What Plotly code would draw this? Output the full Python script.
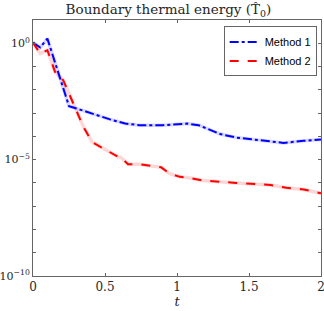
import plotly.graph_objects as go

# Method 1 (blue, dash-dot)
t1 = [0.0, 0.05, 0.1, 0.25, 0.326, 0.44, 0.535, 0.64, 0.74, 0.9, 0.95, 1.02, 1.07, 1.15, 1.3, 1.41, 1.58, 1.74, 1.88, 2.0]
log1 = [0.03, -0.18, 0.2, -2.7, -2.85, -3.09, -3.27, -3.45, -3.52, -3.52, -3.5, -3.46, -3.45, -3.52, -3.9, -4.05, -4.16, -4.28, -4.19, -4.13]

# Method 2 (red, dashed)
t2 = [0.0, 0.05, 0.1, 0.153, 0.21, 0.29, 0.35, 0.41, 0.49, 0.59, 0.61, 0.66, 0.74, 0.89, 0.95, 1.02, 1.07, 1.18, 1.41, 1.65, 1.76, 1.88, 2.0]
log2 = [0.03, -0.44, -0.3, -1.23, -1.59, -2.73, -3.59, -4.24, -4.52, -4.88, -4.9, -5.2, -5.2, -5.33, -5.6, -5.74, -5.77, -5.9, -6.0, -6.09, -6.21, -6.28, -6.45]

y1 = [10 ** v for v in log1]
y2 = [10 ** v for v in log2]

x_ticks = [0, 0.5, 1, 1.5, 2]
x_ticktext = ["0", "0.5", "1", "1.5", "2"]
y_exps = list(range(-10, 2))
y_labeled = {0: "10<sup>0</sup>", -5: "10<sup>\u22125</sup>", -10: "10<sup>\u221210</sup>"}

fig = go.Figure()
# faint halo lines underneath
fig.add_trace(go.Scatter(x=t1, y=y1, mode="lines", line=dict(color="rgba(0,0,255,0.16)", width=3.5),
                         showlegend=False, hoverinfo="skip"))
fig.add_trace(go.Scatter(x=t2, y=y2, mode="lines", line=dict(color="rgba(255,0,0,0.16)", width=3.5),
                         showlegend=False, hoverinfo="skip"))
fig.add_trace(go.Scatter(x=t1, y=y1, mode="lines", name="Method 1",
                         line=dict(color="#0000ff", width=2, dash="dashdot")))
fig.add_trace(go.Scatter(x=t2, y=y2, mode="lines", name="Method 2",
                         line=dict(color="#ff0000", width=2, dash="dash")))

axis_common = dict(showline=True, mirror="ticks", linecolor="#666666", linewidth=1,
                   ticks="inside", ticklen=3, tickcolor="#666666", showgrid=False, zeroline=False,
                   automargin=False, ticklabeloverflow="allow")

fig.update_layout(
    width=324, height=311,
    margin=dict(l=33, r=3, t=20, b=35),
    paper_bgcolor="white", plot_bgcolor="white",
    title=dict(text="Boundary thermal energy (T\u0302<sub>0</sub>)", x=0.52, xanchor="center",
               y=0.985, yanchor="top",
               font=dict(family="DejaVu Serif", size=13.5, color="#262626")),
    xaxis=dict(range=[0, 2], tickvals=x_ticks, ticktext=x_ticktext,
               tickfont=dict(family="DejaVu Serif", size=12, color="#262626"),
               title=dict(text="<i>t</i>", standoff=2,
                          font=dict(family="DejaVu Serif", size=13, color="#262626")),
               **axis_common),
    yaxis=dict(type="log", range=[-10, 1],
               tickvals=[10 ** e for e in y_exps],
               ticktext=[y_labeled.get(e, "") for e in y_exps],
               tickfont=dict(family="DejaVu Serif", size=11, color="#262626"),
               **axis_common),
    legend=dict(x=0.985, y=0.975, xanchor="right", yanchor="top",
                bgcolor="white", bordercolor="#666666", borderwidth=1,
                font=dict(family="Liberation Sans", size=11, color="black"),
                tracegroupgap=0, itemwidth=30),
    showlegend=True,
)

fig.write_html("out.html", config={"displayModeBar": False},
               post_script="document.body.style.margin='0';document.body.style.padding='0';")
